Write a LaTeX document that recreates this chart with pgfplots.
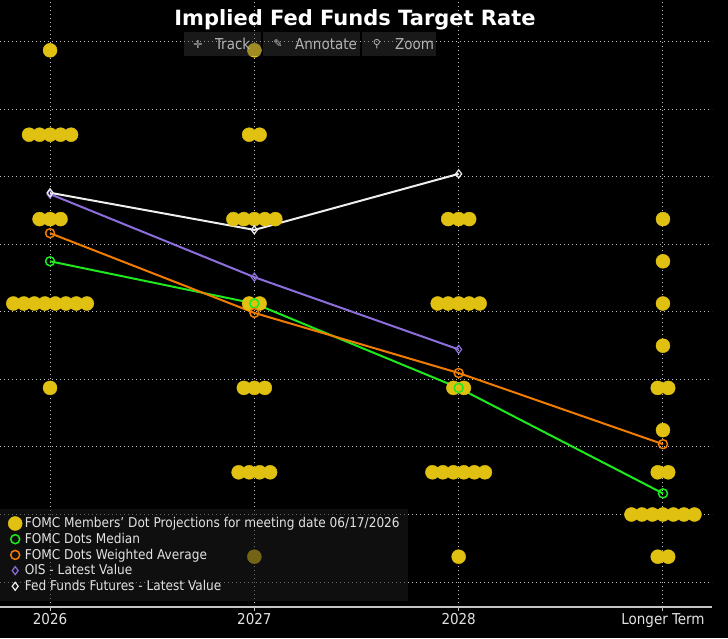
\documentclass[border=0pt]{standalone}
\usepackage{pgfplots}
\pgfplotsset{compat=1.18}
\usepackage{fontspec}
\setmainfont{DejaVu Sans Condensed}
\newfontfamily\symfont{DejaVu Sans}
\newfontfamily\titlefont{DejaVu Sans}

\definecolor{dotyellow}{HTML}{E0C010}
\definecolor{mediangreen}{HTML}{1EE81E}
\definecolor{avgorange}{HTML}{F07C00}
\definecolor{oispurple}{HTML}{8C6FDC}
\definecolor{futwhite}{HTML}{EEEEEE}
\definecolor{gridgray}{HTML}{C4C4C4}
\definecolor{labelgray}{HTML}{E2E2E2}
\definecolor{legendbg}{HTML}{1C1C1C}
\definecolor{toolbg}{HTML}{404040}
\definecolor{tooltext}{HTML}{B4B4B4}

\begin{document}
\begin{tikzpicture}[x=1pt,y=1pt]
% page: 728 x 638, axis box occupies x 0..712, y 0..607
\fill[black] (0,-31) rectangle (728,607);
\useasboundingbox (0,-31) rectangle (728,607);
\begin{axis}[
  at={(0pt,0pt)}, anchor=south west,
  scale only axis, width=712pt, height=607pt,
  xmin=-0.245, xmax=3.24, ymin=2.726, ymax=4.524,
  xtick={0,1,2,3},
  xticklabels={2026,2027,2028,Longer Term},
  ytick={2.8,3,3.2,3.4,3.6,3.8,4,4.2,4.4},
  yticklabels={},
  ytick style={draw=none},
  xtick pos=bottom, tick align=outside, major tick length=4pt,
  xtick style={gridgray, line width=1pt},
  xticklabel style={font=\fontsize{15}{17}\selectfont, text=labelgray, yshift=1pt},
  axis line style={draw=none},
  xmajorgrids, ymajorgrids,
  grid style={gridgray, line width=1pt, dash pattern=on 1.4pt off 2.6pt},
  legend style={at={(0,0)}, anchor=south west, yshift=6pt,
    fill=legendbg, fill opacity=0.55, text opacity=1, draw=none,
    font=\fontsize{13.5}{15}\selectfont, text=labelgray,
    inner xsep=8pt, inner ysep=7.5pt, row sep=1.7pt, column sep=2pt,
    nodes={inner sep=0.6pt}},
  legend cell align=left,
  legend image code/.code={%
    \path[draw=none, fill=none] (-7pt,-7pt) rectangle (7pt,7pt);
    \draw[#1, only marks, fill opacity=1, draw opacity=1] plot coordinates {(0pt,0pt)};},
]
% FOMC participants' dots, one row of overlapping dots per rate level
\addplot[only marks, mark=*, mark size=7pt, color=dotyellow, mark options={draw=none, fill=dotyellow}]
coordinates {
  % 2026
  (0,4.375)
  (-0.1028,4.125) (-0.0514,4.125) (0,4.125) (0.0514,4.125) (0.1028,4.125)
  (-0.0514,3.875) (0,3.875) (0.0514,3.875)
  (-0.1799,3.625) (-0.1285,3.625) (-0.0771,3.625) (-0.0257,3.625)
  (0.0257,3.625) (0.0771,3.625) (0.1285,3.625) (0.1799,3.625)
  (0,3.375)
  % 2027
  (1,4.375)
  (0.9743,4.125) (1.0257,4.125)
  (0.8972,3.875) (0.9486,3.875) (1,3.875) (1.0514,3.875) (1.1028,3.875)
  (0.9743,3.625) (1.0257,3.625)
  (0.9486,3.375) (1,3.375) (1.0514,3.375)
  (0.9229,3.125) (0.9743,3.125) (1.0257,3.125) (1.0771,3.125)
  (1,2.875)
  % 2028
  (1.9486,3.875) (2,3.875) (2.0514,3.875)
  (1.8972,3.625) (1.9486,3.625) (2,3.625) (2.0514,3.625) (2.1028,3.625)
  (1.9743,3.375) (2.0257,3.375)
  (1.8715,3.125) (1.9229,3.125) (1.9743,3.125) (2.0257,3.125) (2.0771,3.125) (2.1285,3.125)
  (2,2.875)
  % Longer term
  (3,3.875)
  (3,3.75)
  (3,3.625)
  (3,3.5)
  (2.9743,3.375) (3.0257,3.375)
  (3,3.25)
  (2.9743,3.125) (3.0257,3.125)
  (2.8458,3.0) (2.8972,3.0) (2.9486,3.0) (3,3.0) (3.0514,3.0) (3.1028,3.0) (3.1542,3.0)
  (2.9743,2.875) (3.0257,2.875)
};
\addlegendentry{FOMC Members' Dot Projections for meeting date 06/17/2026}

\addplot[color=mediangreen, line width=2pt, mark=o, mark size=4.5pt, mark options={line width=1.5pt}]
coordinates {(0,3.75) (1,3.625) (2,3.375) (3,3.0625)};
\addlegendentry{FOMC Dots Median}

\addplot[color=avgorange, line width=2pt, mark=o, mark size=4.5pt, mark options={line width=1.5pt}]
coordinates {(0,3.8333) (1,3.5972) (2,3.4191) (3,3.2083)};
\addlegendentry{FOMC Dots Weighted Average}

\addplot[color=oispurple, line width=2pt, mark=diamond, mark size=4pt, mark options={line width=1.2pt}]
coordinates {(0,3.949) (1,3.703) (2,3.489)};
\addlegendentry{OIS - Latest Value}

\addplot[color=futwhite, line width=2pt, mark=diamond, mark size=4pt, mark options={line width=1.2pt}]
coordinates {(0,3.953) (1,3.843) (2,4.009)};
\addlegendentry{Fed Funds Futures - Latest Value}

% bottom axis line
\draw[gridgray, line width=1.5pt] (rel axis cs:0,0) -- (rel axis cs:1,0);
\end{axis}

% chart toolbar
\fill[toolbg, fill opacity=0.4] (184,551) rectangle (261,575);
\fill[toolbg, fill opacity=0.4] (263,551) rectangle (360,575);
\fill[toolbg, fill opacity=0.4] (362,551) rectangle (436,575);
\node[text=tooltext, font=\symfont\fontsize{11}{12}\selectfont] at (198,563) {✛};
\node[text=tooltext, font=\fontsize{15}{16}\selectfont, anchor=west, inner sep=0pt] at (215,563) {Track};
\node[text=tooltext, font=\symfont\fontsize{11}{12}\selectfont] at (278,563) {✎};
\node[text=tooltext, font=\fontsize{15}{16}\selectfont, anchor=west, inner sep=0pt] at (295,563) {Annotate};
\node[text=tooltext, font=\symfont\fontsize{11}{12}\selectfont] at (377,563) {⚲};
\node[text=tooltext, font=\fontsize{15}{16}\selectfont, anchor=west, inner sep=0pt] at (395,563) {Zoom};

% title
\node[text=white, font=\titlefont\bfseries\fontsize{21}{24}\selectfont] at (355,587) {Implied Fed Funds Target Rate};
\end{tikzpicture}
\end{document}
